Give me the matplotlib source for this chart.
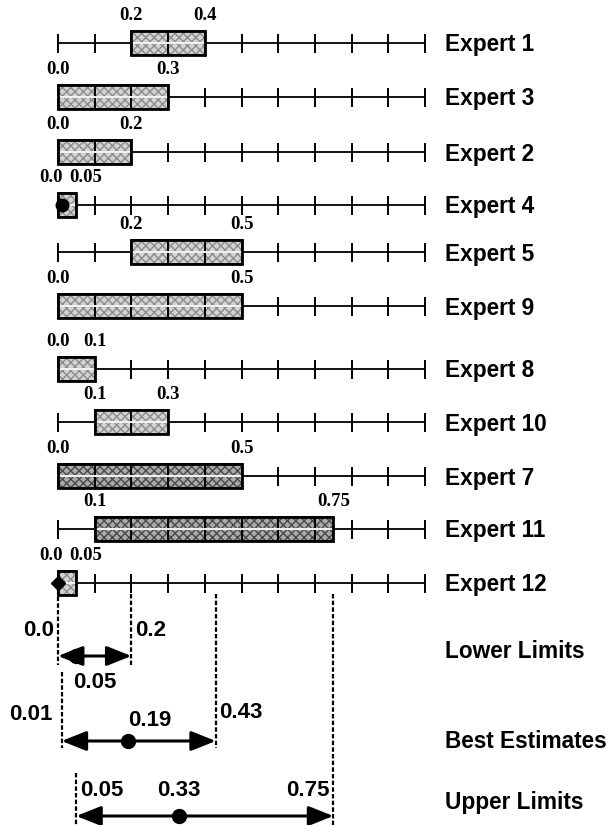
import matplotlib
matplotlib.use("Agg")
import matplotlib.pyplot as plt
from matplotlib.patches import Rectangle
import numpy as np

# ---------- data ----------
experts = ["Expert 1", "Expert 3", "Expert 2", "Expert 4", "Expert 5", "Expert 9",
           "Expert 8", "Expert 10", "Expert 7", "Expert 11", "Expert 12"]
lows = [0.2, 0.0, 0.0, 0.0, 0.2, 0.0, 0.0, 0.1, 0.0, 0.1, 0.0]
highs = [0.4, 0.3, 0.2, 0.05, 0.5, 0.5, 0.1, 0.3, 0.5, 0.75, 0.05]
dark_experts = ["Expert 7", "Expert 11"]
point_experts = {"Expert 4": 0.0, "Expert 12": 0.0}

summary_labels = ["Lower Limits", "Best Estimates", "Upper Limits"]
summary_lo = [0.0, 0.01, 0.05]
summary_mid = [0.05, 0.19, 0.33]
summary_hi = [0.2, 0.43, 0.75]

# ---------- layout (pixel-ish units) ----------
W, H = 616, 825
X0, SPAN = 58, 367               # pixel of value 0 and length of 0..1
row_y = [43, 97, 152, 205, 252, 306, 369, 422, 476, 529, 583]
BOX_H = 24
TICK_H = 9.5
LABEL_X = (445 - X0) / SPAN

fig = plt.figure(figsize=(W / 100, H / 100), dpi=100)
ax = fig.add_axes([0, 0, 1, 1])
ax.set_xlim(-X0 / SPAN, (W - X0) / SPAN)
ax.set_ylim(H, 0)
ax.axis("off")

serif = dict(family="Liberation Serif", fontweight="bold", fontsize=13.5)
sans = dict(family="Liberation Sans", fontweight="bold", fontsize=16.3)

ticks = np.round(np.arange(0, 1.01, 0.1), 2)

for name, lo, hi, y in zip(experts, lows, highs, row_y):
    # number line with ticks
    ax.plot([0, 1], [y, y], color="black", lw=1.3, zorder=1)
    ax.vlines(ticks, y - TICK_H, y + TICK_H, color="black", lw=1.4, zorder=1)

    dark = name in dark_experts
    face = "#a9a9a9" if dark else "#d3d3d3"
    hatch_c = "#4a4a4a" if dark else "#8c8c8c"
    edges = [lo] + [t for t in ticks if lo < t < hi] + [hi]
    for a, b in zip(edges[:-1], edges[1:]):
        ax.add_patch(Rectangle((a, y - BOX_H / 2), b - a, BOX_H, facecolor=face,
                               edgecolor=hatch_c, hatch="xxxx", lw=0, zorder=2))
        ax.add_patch(Rectangle((a, y - BOX_H / 2), b - a, BOX_H, fill=False,
                               edgecolor="black", lw=1.2, zorder=3))
    ax.plot([lo, hi], [y, y], color="#f2f2f2", lw=1.4, zorder=3)
    ax.add_patch(Rectangle((lo, y - BOX_H / 2), hi - lo, BOX_H, fill=False,
                           edgecolor="black", lw=2.0, zorder=4))

    if name in point_experts:
        ax.plot(point_experts[name] + (0.012 if name == "Expert 4" else 0), y,
                marker="o" if name == "Expert 4" else "D", ms=9 if name == "Expert 4" else 7,
                color="black", zorder=5)

    # value labels above the box
    ly = y - 19
    if hi - lo < 0.08:
        ax.text(lo + 0.012, ly, f"{lo:.1f}", ha="right", va="bottom", **serif)
        ax.text(hi - 0.018, ly, f"{hi:g}", ha="left", va="bottom", **serif)
    else:
        ax.text(lo, ly, f"{lo:.1f}", ha="center", va="bottom", **serif)
        ax.text(hi, ly, f"{hi:g}", ha="center", va="bottom", **serif)

    ax.text(LABEL_X, y + 2, name, ha="left", va="center", **sans)

# ---------- summary arrows ----------
arrow_y = [656, 741, 816]
label_y = [652, 741, 803]
lo_top = [590, 672, 773]
hi_top = [594, 594, 594]
line_bot = [665, 748, 825]
num = dict(family="Liberation Sans", fontweight="bold", fontsize=16)
dash = dict(color="black", lw=1.6, ls=(0, (2.0, 1.0)), zorder=1)

for i, (lab, lo, mid, hi) in enumerate(zip(summary_labels, summary_lo, summary_mid, summary_hi)):
    ay = arrow_y[i]
    ax.plot([lo, lo], [lo_top[i], line_bot[i]], **dash)
    ax.plot([hi, hi], [hi_top[i], line_bot[i]], **dash)
    ax.annotate("", xy=(hi, ay), xytext=(lo, ay),
                arrowprops=dict(arrowstyle="<|-|>,head_length=1.0,head_width=0.4",
                                mutation_scale=15, lw=2.2, color="black",
                                shrinkA=0, shrinkB=0))
    ax.plot(mid, ay, "o", color="black", ms=10, zorder=5)
    ax.text(LABEL_X, label_y[i], lab, ha="left", va="center", **sans)

    if i == 0:
        ax.text(lo - 0.01, ay - 25, f"{lo:.1f}", ha="right", va="center", **num)
        ax.text(hi + 0.01, ay - 25, f"{hi:g}", ha="left", va="center", **num)
        ax.text(mid + 0.05, ay + 26, f"{mid:g}", ha="center", va="center", **num)
    elif i == 1:
        ax.text(lo - 0.025, ay - 26, f"{lo:g}", ha="right", va="center", **num)
        ax.text(hi + 0.01, ay - 29, f"{hi:g}", ha="left", va="center", **num)
        ax.text(mid + 0.0, ay - 21, f"{mid:g}", ha="left", va="center", **num)
    else:
        ax.text(lo + 0.01, ay - 26, f"{lo:g}", ha="left", va="center", **num)
        ax.text(mid, ay - 26, f"{mid:g}", ha="center", va="center", **num)
        ax.text(hi - 0.01, ay - 26, f"{hi:g}", ha="right", va="center", **num)

fig.savefig("out.png", dpi=100, facecolor="white")
